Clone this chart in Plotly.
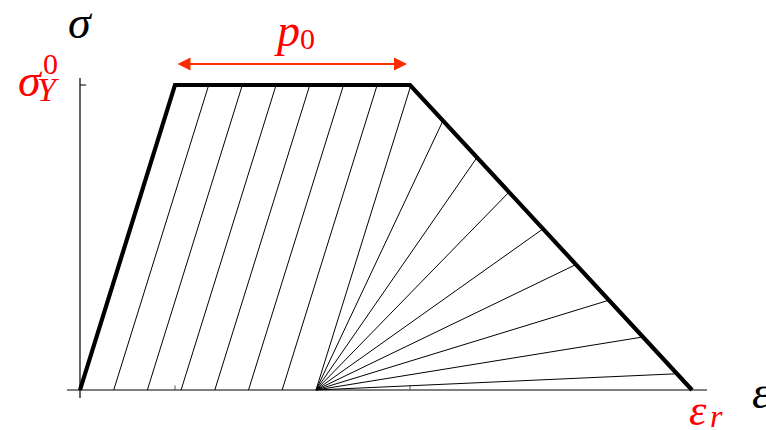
import numpy as np
import plotly.graph_objects as go

# Idealised stress-strain law (normalised: sigma_Y0 = 1, eps_Y = 1)
law_eps = [0.0, 1.0, 3.474, 6.442]      # origin, yield, end of plateau, rupture eps_r
law_sig = [0.0, 1.0, 1.0, 0.0]

# Elastic unloading lines from the plateau (parallel to the elastic branch)
unload_base_eps = [0.355, 0.709, 1.064, 1.419, 1.774, 2.128, 2.484]
eps_yield = 1.0

# Lines from the residual strain to points on the softening branch
fan_origin_eps = 2.484
fan_end_eps = [3.821, 4.179, 4.516, 4.874, 5.221, 5.568, 5.926, 6.284]

# Axis ticks
xtick_eps = [1.0, 3.474]
ytick_sig = [1.0]

RED = "#ff0000"
ARROW = "#ff2a00"
SERIF = "serif"

fig = go.Figure()


def seg(xs, ys, width, color="black"):
    fig.add_trace(go.Scatter(x=xs, y=ys, mode="lines",
                             line=dict(color=color, width=width),
                             hoverinfo="skip", showlegend=False))


# axes
seg([-0.137, 6.6], [0, 0], 1.2)
seg([0, 0], [-0.026, 1.023], 1.2)
for t in xtick_eps:
    seg([t, t], [0, 0.015], 1.0, "#555555")
for t in ytick_sig:
    seg([0, 0.065], [t, t], 1.0)

# unloading lines from the plateau
for b in unload_base_eps:
    seg([b, b + eps_yield], [0, 1], 1.0)

# fan towards the softening branch (softening branch runs from sigma=1 down to 0)
soft_eps = law_eps[2:]
soft_sig = law_sig[2:]
for e in fan_end_eps:
    s = float(np.interp(e, soft_eps, soft_sig))
    seg([fan_origin_eps, e], [0, s], 1.0)

# constitutive law
seg(law_eps, law_sig, 4.2)

ann = []


def label(x, y, text, size, color="black", xanchor="center", yanchor="middle"):
    ann.append(dict(x=x, y=y, xref="x", yref="y", text=text, showarrow=False,
                    font=dict(family=SERIF, size=size, color=color),
                    xanchor=xanchor, yanchor=yanchor))


def px_x(p):
    return (p - 80) / 95.0


def px_y(p):
    return (390 - p) / 305.0


# plateau length arrow
ann.append(dict(x=px_x(407), y=px_y(64), ax=px_x(176), ay=px_y(64),
                xref="x", yref="y", axref="x", ayref="y", text="",
                showarrow=True, arrowhead=2, startarrowhead=2, arrowside="end+start",
                arrowsize=1.3, arrowwidth=2, arrowcolor=ARROW))
label(px_x(287), px_y(30), "<i>p</i>", 46, RED)
label(px_x(307), px_y(38), "0", 30, RED)

# axis symbols
label(px_x(80), px_y(22), "<i>σ</i>", 46)
label(px_x(750), px_y(392), "<i>ε</i>", 46, xanchor="left")
label(px_x(30), px_y(80), "<i>σ</i>", 46, RED)
label(px_x(48), px_y(89), "<i>Y</i>", 34, RED)
label(px_x(50), px_y(63), "0", 30, RED)
label(px_x(698), px_y(410), "<i>ε</i>", 44, RED)
label(px_x(716), px_y(416), "<i>r</i>", 32, RED)

fig.update_layout(
    width=766, height=430,
    margin=dict(l=0, r=0, t=0, b=0),
    font=dict(family=SERIF),
    paper_bgcolor="white", plot_bgcolor="white",
    xaxis=dict(range=[-80 / 95.0, 686 / 95.0], visible=False, fixedrange=True),
    yaxis=dict(range=[-40 / 305.0, 390 / 305.0], visible=False, fixedrange=True),
    annotations=ann,
)

fig.write_html("out.html")
